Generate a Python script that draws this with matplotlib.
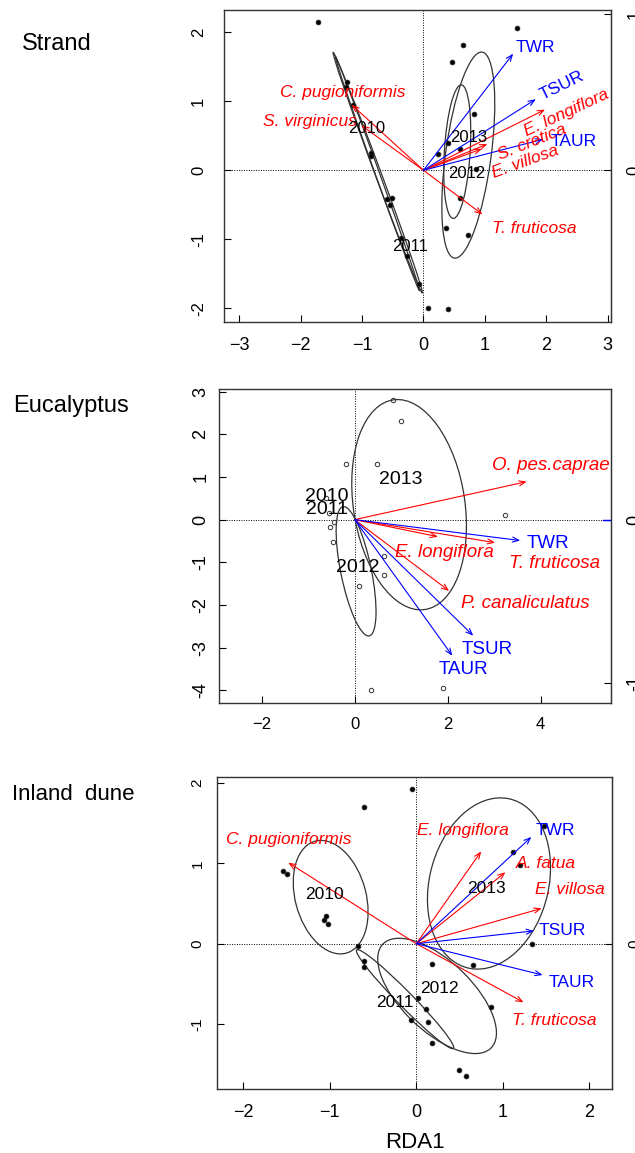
import matplotlib
matplotlib.use("Agg")
import matplotlib.pyplot as plt
from matplotlib.patches import Ellipse

plt.rcParams['font.family'] = ['Liberation Sans', 'DejaVu Sans']

# ---------------- Strand ----------------
strand_site_x = [-1.71, -1.24, -1.27, -1.15, -0.85, -0.85, -0.60, -0.51, -0.55, -0.37,
                 -0.27, -0.08, 0.07, 0.40, 1.52, 0.64, 0.46, 0.82, 0.23, 0.40,
                 0.59, 0.85, 0.60, 0.36, 0.72]
strand_site_y = [2.15, 1.28, 1.20, 0.94, 0.25, 0.20, -0.42, -0.40, -0.51, -0.98,
                 -1.24, -1.65, -2.00, -2.01, 2.06, 1.81, 1.57, 0.81, 0.23, 0.39,
                 0.31, 0.02, -0.40, -0.83, -0.94]
strand_species = ["C. pugioniformis", "S. virginicus", "T. fruticosa",
                  "E. longiflora", "S. cretica", "E. villosa"]
strand_species_x = [-1.17, -1.01, 0.96, 1.98, 1.04, 0.95]
strand_species_y = [0.95, 0.65, -0.64, 0.88, 0.38, 0.31]
strand_env = ["TWR", "TSUR", "TAUR"]
strand_env_x = [1.46, 1.83, 1.95]
strand_env_y = [1.69, 1.03, 0.45]
strand_years = ["2010", "2011", "2012", "2013"]
strand_year_x = [-0.93, -0.22, 0.70, 0.73]
strand_year_y = [0.60, -1.11, -0.04, 0.48]
strand_ell_cx = [-0.745, -0.75, 0.55, 0.73]
strand_ell_cy = [-0.035, -0.05, 0.27, 0.22]
strand_ell_a = [1.89, 1.83, 0.97, 1.51]
strand_ell_b = [0.05, 0.035, 0.21, 0.37]
strand_ell_angle = [112.6, 112.0, 86.0, 81.3]

# ---------------- Eucalyptus ----------------
euc_site_x = [0.82, 0.99, -0.18, 0.48, 3.23, -0.62, -0.55, -0.44, -0.53, -0.47,
              0.62, 0.63, 0.10, 0.36, 1.89]
euc_site_y = [2.80, 2.30, 1.31, 1.31, 0.12, 0.50, 0.16, -0.05, -0.18, -0.52,
              -0.85, -1.30, -1.55, -4.00, -3.95]
euc_species = ["O. pes.caprae", "E. longiflora", "T. fruticosa", "P. canaliculatus"]
euc_species_x = [3.70, 1.79, 3.02, 2.03]
euc_species_y = [0.89, -0.40, -0.54, -1.67]
euc_env = ["TWR", "TSUR", "TAUR"]
euc_env_x = [3.56, 2.55, 2.10]
euc_env_y = [-0.49, -2.72, -3.19]
euc_years = ["2010", "2011", "2012", "2013"]
euc_year_x = [-0.60, -0.60, 0.06, 0.99]
euc_year_y = [0.55, 0.24, -1.13, 0.95]
euc_ell_cx = [0.03, 1.17]
euc_ell_cy = [-1.21, 0.35]
euc_ell_a = [1.54, 2.48]
euc_ell_b = [0.33, 1.20]
euc_ell_angle = [100.5, 97.5]

# ---------------- Inland dune ----------------
inland_site_x = [-0.05, -0.61, 1.48, -1.54, -1.50, 1.12, 1.20, -1.04, -1.07, -1.02,
                 1.34, -0.67, -0.61, -0.61, 0.18, 0.65, 0.02, 0.11, 0.86, -0.06,
                 0.14, 0.18, 0.49, 0.57]
inland_site_y = [1.93, 1.70, 1.47, 0.90, 0.87, 1.14, 0.98, 0.34, 0.30, 0.24,
                 0.00, -0.03, -0.21, -0.29, -0.25, -0.26, -0.67, -0.81, -0.79, -0.95,
                 -0.98, -1.24, -1.57, -1.65]
inland_species = ["C. pugioniformis", "E. longiflora", "A. fatua", "E. villosa", "T. fruticosa"]
inland_species_x = [-1.48, 0.75, 1.03, 1.45, 1.24]
inland_species_y = [1.01, 1.15, 0.89, 0.44, -0.73]
inland_env = ["TWR", "TSUR", "TAUR"]
inland_env_x = [1.33, 1.36, 1.46]
inland_env_y = [1.33, 0.16, -0.39]
inland_years = ["2010", "2011", "2012", "2013"]
inland_year_x = [-1.06, -0.25, 0.27, 0.81]
inland_year_y = [0.61, -0.73, -0.56, 0.69]
inland_ell_cx = [-0.99, -0.13, 0.24, 0.84]
inland_ell_cy = [0.58, -0.69, -0.65, 0.75]
inland_ell_a = [0.72, 0.83, 0.90, 1.08]
inland_ell_b = [0.41, 0.09, 0.42, 0.69]
inland_ell_angle = [103.5, -47.7, -47.0, 78.0]

RED = "#ff0000"
BLUE = "#0000ff"

fig = plt.figure(figsize=(6.35, 11.53), dpi=100)


def draw_panel(ax, site_x, site_y, filled, sp_names, sp_x, sp_y, env_names, env_x, env_y,
               years, yr_x, yr_y, ell, sp_lab, env_lab, opts):
    ax.set_xlim(*opts["xlim"])
    ax.set_ylim(*opts["ylim"])
    ax.axhline(0, color="black", lw=0.7, ls=(0, (1, 1.5)), zorder=1)
    ax.axvline(0, color="black", lw=0.7, ls=(0, (1, 1.5)), zorder=1)

    if filled:
        ax.plot(site_x, site_y, "o", ms=3.4, mfc="black", mec="#222222", mew=0.6, zorder=3)
    else:
        ax.plot(site_x, site_y, "o", ms=3.2, mfc="none", mec="#333333", mew=0.7, zorder=3)

    for cx, cy, a, b, ang in zip(*ell):
        ax.add_patch(Ellipse((cx, cy), 2 * a, 2 * b, angle=ang, fill=False,
                             ec="#333333", lw=0.9, zorder=2))

    for x, y in zip(sp_x, sp_y):
        ax.annotate("", xy=(x, y), xytext=(0, 0),
                    arrowprops=dict(arrowstyle="->,head_length=0.45,head_width=0.18",
                                    color=RED, lw=0.8, shrinkA=0, shrinkB=0), zorder=4)
    for x, y in zip(env_x, env_y):
        ax.annotate("", xy=(x, y), xytext=(0, 0),
                    arrowprops=dict(arrowstyle="->,head_length=0.45,head_width=0.18",
                                    color=BLUE, lw=0.8, shrinkA=0, shrinkB=0), zorder=4)

    for name, (lx, ly, rot) in zip(sp_names, sp_lab):
        ax.text(lx, ly, name, color=RED, style="italic", fontsize=opts["labsize"],
                ha="center", va="center", rotation=rot, rotation_mode="anchor", zorder=5)
    for name, (lx, ly, rot) in zip(env_names, env_lab):
        ax.text(lx, ly, name, color=BLUE, fontsize=opts["labsize"],
                ha="center", va="center", rotation=rot, rotation_mode="anchor", zorder=5)
    for name, x, y in zip(years, yr_x, yr_y):
        ax.text(x, y, name, color="black", fontsize=opts["yearsize"],
                ha="center", va="center", zorder=5)

    ax.set_xticks(opts["xticks"])
    ax.set_yticks(opts["yticks"])
    ax.set_yticklabels([f"{t:g}".replace("-", "-") for t in opts["yticks"]],
                       rotation=90, va="center")
    ax.tick_params(axis="x", direction="in", length=5, width=0.8,
                   labelsize=opts["xtsize"], pad=opts["xpad"])
    ax.tick_params(axis="y", direction="in", length=5, width=0.8,
                   labelsize=opts["ytsize"], pad=opts["ypad"])
    for s in ax.spines.values():
        s.set_color("#333333")
        s.set_linewidth(1.0)

    f = opts["rscale"]
    sec = ax.secondary_yaxis("right", functions=(lambda v: v / f, lambda v: v * f))
    sec.set_yticks(opts["rticks"])
    sec.set_yticklabels([f"{t:g}" for t in opts["rticks"]], rotation=90, va="center")
    sec.tick_params(direction="in", length=5, width=0.8, labelsize=opts["ytsize"], pad=11)
    sec.spines["right"].set_color("#333333")


W, H = 635.0, 1153.0


def box(left, right, top, bottom):
    return [left / W, 1 - bottom / H, (right - left) / W, (bottom - top) / H]


# Strand panel
ax1 = fig.add_axes(box(224, 611, 10, 322))
draw_panel(
    ax1, strand_site_x, strand_site_y, True,
    strand_species, strand_species_x, strand_species_y,
    strand_env, strand_env_x, strand_env_y,
    strand_years, strand_year_x, strand_year_y,
    (strand_ell_cx, strand_ell_cy, strand_ell_a, strand_ell_b, strand_ell_angle),
    [(-1.31, 1.13, 0), (-1.85, 0.71, 0), (1.80, -0.84, 0),
     (2.33, 0.83, 25), (1.76, 0.40, 22), (1.65, 0.12, 20)],
    [(1.82, 1.78, 0), (2.25, 1.23, 26), (2.44, 0.42, 0)],
    dict(xlim=(-3.249, 3.054), ylim=(-2.199, 2.323), xticks=[-3, -2, -1, 0, 1, 2, 3],
         yticks=[-2, -1, 0, 1, 2], rticks=[0, 1], rscale=2.26, labsize=12.5,
         yearsize=12, xtsize=13, ytsize=12, xpad=11, ypad=13),
)

# Eucalyptus panel
ax2 = fig.add_axes(box(219, 611, 389, 703))
draw_panel(
    ax2, euc_site_x, euc_site_y, False,
    euc_species, euc_species_x, euc_species_y,
    euc_env, euc_env_x, euc_env_y,
    euc_years, euc_year_x, euc_year_y,
    (euc_ell_cx, euc_ell_cy, euc_ell_a, euc_ell_b, euc_ell_angle),
    [(4.22, 1.28, 0), (1.92, -0.77, 0), (4.29, -1.02, 0), (3.68, -1.96, 0)],
    [(4.16, -0.55, 0), (2.84, -3.04, 0), (2.34, -3.52, 0)],
    dict(xlim=(-2.918, 5.512), ylim=(-4.297, 3.061), xticks=[-2, 0, 2, 4],
         yticks=[-4, -3, -2, -1, 0, 1, 2, 3], rticks=[-1, 0], rscale=3.82, labsize=13.5,
         yearsize=14, xtsize=12, ytsize=13, xpad=10, ypad=7),
)
ax2.axhline(0, xmin=0.98, xmax=1.0, color=BLUE, lw=1.0, zorder=4)

# Inland dune panel
ax3 = fig.add_axes(box(217, 612, 777, 1089))
draw_panel(
    ax3, inland_site_x, inland_site_y, True,
    inland_species, inland_species_x, inland_species_y,
    inland_env, inland_env_x, inland_env_y,
    inland_years, inland_year_x, inland_year_y,
    (inland_ell_cx, inland_ell_cy, inland_ell_a, inland_ell_b, inland_ell_angle),
    [(-1.47, 1.30, 0), (0.54, 1.41, 0), (1.50, 1.00, 0), (1.78, 0.68, 0), (1.59, -0.95, 0)],
    [(1.61, 1.41, 0), (1.69, 0.17, 0), (1.80, -0.48, 0)],
    dict(xlim=(-2.304, 2.262), ylim=(-1.809, 2.076), xticks=[-2, -1, 0, 1, 2],
         yticks=[-1, 0, 1, 2], rticks=[0, 1], rscale=2.08, labsize=12.5,
         yearsize=12.5, xtsize=13, ytsize=11, xpad=11, ypad=9),
)
ax3.set_xlabel("RDA1", fontsize=16, labelpad=8)

# Habitat titles
fig.text(22 / W, 1 - 50 / H, "Strand", fontsize=17, va="baseline", ha="left")
fig.text(13 / W, 1 - 412 / H, "Eucalyptus", fontsize=17, va="baseline", ha="left")
fig.text(12.5 / W, 1 - 800 / H, "Inland  dune", fontsize=16, va="baseline", ha="left")

fig.savefig("out.png", dpi=100)
